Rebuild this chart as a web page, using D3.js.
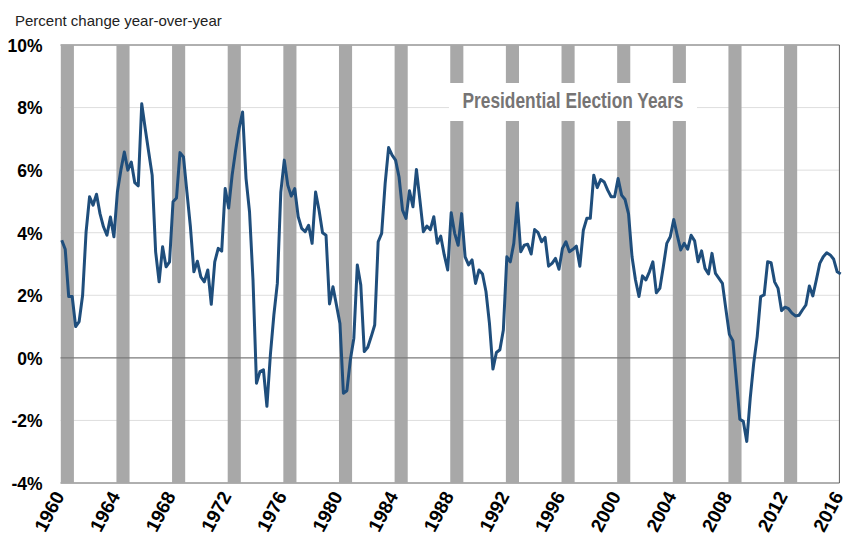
<!DOCTYPE html>
<html>
<head>
<meta charset="utf-8">
<script src="https://cdn.jsdelivr.net/npm/d3@7"></script>
<style>
  body { margin: 0; background: #fff; }
  svg { font-family: "Liberation Sans", Arial, sans-serif; }
</style>
</head>
<body>
<script>
// Quarterly data, 1960Q1 .. 2016Q1, percent change year-over-year
const firstYear = 1960;
const growth = [
  3.76, 3.47, 1.96, 1.96,   // 1960
  1.00, 1.16, 2.00, 4.03,   // 1961
  5.15, 4.88, 5.23, 4.61,   // 1962
  4.19, 3.92, 4.50, 3.87,   // 1963
  5.30, 6.00, 6.58, 6.00,   // 1964
  6.26, 5.60, 5.50, 8.12,   // 1965
  7.33, 6.58, 5.84, 3.39,   // 1966
  2.43, 3.55, 2.91, 3.07,   // 1967
  4.99, 5.11, 6.56, 6.42,   // 1968
  5.30, 4.19, 2.75, 3.09,   // 1969
  2.59, 2.43, 2.81, 1.71,   // 1970
  3.07, 3.50, 3.41, 5.41,   // 1971
  4.79, 5.84, 6.63, 7.33,   // 1972
  7.86, 5.73, 4.67, 2.49,   // 1973
  -0.81, -0.44, -0.38, -1.55, // 1974
  0.10, 1.37, 2.38, 5.30,   // 1975
  6.32, 5.52, 5.17, 5.41,   // 1976
  4.51, 4.14, 4.03, 4.24,   // 1977
  3.66, 5.30, 4.72, 4.00,   // 1978
  3.92, 1.72, 2.27, 1.69,   // 1979
  1.10, -1.13, -1.05, -0.06, // 1980
  0.63, 2.97, 2.33, 0.20,   // 1981
  0.34, 0.68, 1.05, 3.71,   // 1982
  3.98, 5.57, 6.72, 6.48,   // 1983
  6.32, 5.78, 4.72, 4.46,   // 1984
  5.34, 4.83, 6.02, 5.04,   // 1985
  4.03, 4.21, 4.10, 4.51,   // 1986
  3.66, 3.89, 3.29, 2.81,   // 1987
  4.64, 3.98, 3.60, 4.61,   // 1988
  3.23, 2.97, 3.13, 2.38,   // 1989
  2.81, 2.68, 2.12, 1.10,   // 1990
  -0.36, 0.17, 0.26, 0.89,  // 1991
  3.23, 3.07, 3.66, 4.95,   // 1992
  3.39, 3.60, 3.63, 3.32,   // 1993
  4.10, 4.00, 3.71, 3.85,   // 1994
  2.93, 3.02, 3.18, 2.83,   // 1995
  3.50, 3.71, 3.39, 3.47,   // 1996
  3.57, 2.93, 4.08, 4.46,   // 1997
  4.46, 5.84, 5.44, 5.70,   // 1998
  5.62, 5.36, 5.15, 5.15,   // 1999
  5.73, 5.20, 5.06, 4.60,   // 2000
  3.23, 2.49, 1.96, 2.62,   // 2001
  2.49, 2.75, 3.07, 2.08,   // 2002
  2.22, 2.91, 3.66, 3.87,   // 2003
  4.42, 3.92, 3.45, 3.66,   // 2004
  3.47, 3.92, 3.74, 3.07,   // 2005
  3.42, 2.86, 2.68, 3.34,   // 2006
  2.70, 2.54, 2.38, 1.55,   // 2007
  0.75, 0.55, -0.70, -1.96, // 2008
  -2.03, -2.67, -1.29, -0.17, // 2009
  0.68, 1.96, 2.01, 3.07,   // 2010
  3.04, 2.43, 2.22, 1.51,   // 2011
  1.62, 1.57, 1.43, 1.34,   // 2012
  1.36, 1.53, 1.69, 2.30,   // 2013
  1.98, 2.49, 3.02, 3.23,   // 2014
  3.36, 3.29, 3.15, 2.75,   // 2015
  2.68                      // 2016
];

const electionYears = [1960, 1964, 1968, 1972, 1976, 1980, 1984, 1988,
                       1992, 1996, 2000, 2004, 2008, 2012];
const xTicks = [1960, 1964, 1968, 1972, 1976, 1980, 1984, 1988,
                1992, 1996, 2000, 2004, 2008, 2012, 2016];
const yTicks = [-4, -2, 0, 2, 4, 6, 8, 10];

const width = 846, height = 539;
const plot = { left: 60.5, right: 839.4, top: 45, bottom: 483 };

const svg = d3.select('body')
  .append('svg')
  .attr('width', width)
  .attr('height', height);

const x = d3.scaleLinear()
  .domain([1960, 2016])
  .range([plot.left, plot.right]);

const y = d3.scaleLinear()
  .domain([-4, 10])
  .range([plot.bottom, plot.top]);

// gridlines
svg.append('g')
  .selectAll('line')
  .data(yTicks.filter(d => d !== 0 && d !== -4 && d !== 10))
  .enter()
  .append('line')
  .attr('x1', plot.left)
  .attr('x2', plot.right)
  .attr('y1', d => y(d))
  .attr('y2', d => y(d))
  .attr('stroke', '#dedede')
  .attr('stroke-width', 1);

// frame: top, right and bottom
svg.append('path')
  .attr('d', `M${plot.left},${y(10)}H${plot.right}V${y(-4)}H${plot.left}`)
  .attr('fill', 'none')
  .attr('stroke', '#606060')
  .attr('stroke-width', 1);

// election year bars
svg.append('g')
  .selectAll('rect')
  .data(electionYears)
  .enter()
  .append('rect')
  .attr('x', d => x(d) + 0.3)
  .attr('width', d => x(d + 1) - x(d) - 0.8)
  .attr('y', y(10))
  .attr('height', y(-4) - y(10))
  .attr('fill', '#a8a8a8');

// zero line
svg.append('line')
  .attr('x1', plot.left)
  .attr('x2', plot.right)
  .attr('y1', y(0))
  .attr('y2', y(0))
  .attr('stroke', '#7a7a7a')
  .attr('stroke-width', 1.2);

// y axis labels
const yAxis = svg.append('g')
  .attr('transform', `translate(${plot.left - 18},0)`)
  .call(d3.axisLeft(y).tickValues(yTicks).tickSize(0).tickFormat(d => d + '%'));
yAxis.select('.domain').remove();
yAxis.selectAll('text')
  .attr('x', 0)
  .attr('dy', '0.36em')
  .style('font-size', '17.5px')
  .style('font-weight', 'bold')
  .style('fill', '#000');

// x axis labels, steeply rotated
const xAxis = svg.append('g')
  .attr('transform', `translate(0,${plot.bottom})`)
  .call(d3.axisBottom(x).tickValues(xTicks).tickSize(0).tickFormat(d3.format('d')));
xAxis.select('.domain').remove();
xAxis.selectAll('text')
  .attr('y', 0)
  .attr('dy', 0)
  .attr('transform', 'translate(4,13) rotate(-62)')
  .style('text-anchor', 'end')
  .style('font-size', '19px')
  .style('font-weight', 'bold')
  .style('fill', '#000');

// label box
svg.append('rect')
  .attr('x', 449)
  .attr('y', 83)
  .attr('width', 248)
  .attr('height', 38)
  .attr('fill', '#fff');

svg.append('text')
  .attr('x', 573)
  .attr('y', 108)
  .attr('text-anchor', 'middle')
  .attr('textLength', 221)
  .attr('lengthAdjust', 'spacingAndGlyphs')
  .style('font-family', '"Liberation Sans Narrow", "Liberation Sans", Arial, sans-serif')
  .style('font-size', '22px')
  .style('font-weight', 'bold')
  .style('fill', '#767474')
  .text('Presidential Election Years');

// data line
const line = d3.line()
  .x((d, i) => x(firstYear + i / 4 + 0.09))
  .y(d => y(d));

svg.append('path')
  .datum(growth)
  .attr('d', line)
  .attr('fill', 'none')
  .attr('stroke', '#1f4e7c')
  .attr('stroke-width', 3)
  .attr('stroke-linejoin', 'round');

// title
svg.append('text')
  .attr('x', 15)
  .attr('y', 26)
  .style('font-size', '15px')
  .style('fill', '#222')
  .text('Percent change year-over-year');
</script>
</body>
</html>
